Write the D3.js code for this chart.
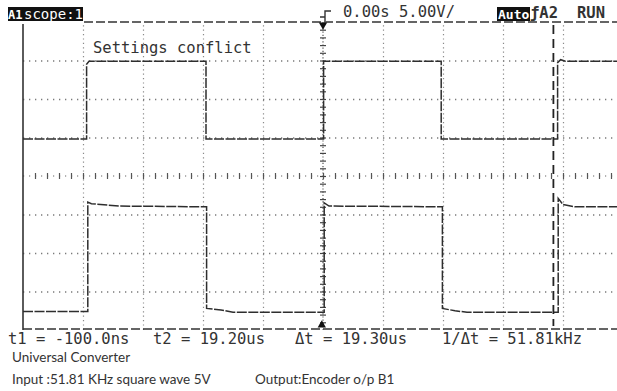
<!DOCTYPE html>
<html>
<head>
<meta charset="utf-8">
<script src="https://cdn.jsdelivr.net/npm/d3@7"></script>
<style>
  body { margin: 0; background: #fff; }
  svg { display: block; }
  .scope { font-family: "DejaVu Sans Mono", monospace; font-size: 15.5px; fill: #333; }
  .scope.inv { fill: #fff; }
  .caption { font-family: Lato, "Open Sans", sans-serif; font-size: 13.5px; fill: #333; }
  .grid .domain { display: none; }
</style>
</head>
<body>
<div id="chart"></div>
<script>
// screen: 10 time divisions of 5 us, 8 voltage divisions of 5 V
var timeDomain = [-25, 25];
var voltDomain = [-20, 20];
var timeGrid = [-20, -15, -10, -5, 5, 10, 15, 20];
var voltGrid = [-15, -10, -5, 5, 10, 15];

// channel A1 trace [us, V]
var ch1 = [[-25, 4.8], [-19.7, 4.8], [-19.7, 14.5], [-19.5, 14.9], [-9.75, 14.9], [-9.75, 4.8],
  [0.05, 4.8], [0.05, 14.9], [9.85, 14.9], [9.85, 4.8], [19.55, 4.8], [19.55, 14.7],
  [19.8, 15.1], [20.2, 14.9], [25, 14.9]];

// channel A2 trace [us, V]
var ch2 = [[-25, -17.6], [-19.6, -17.6], [-19.6, -3.4], [-19.3, -3.6], [-17, -3.9], [-9.7, -4.0],
  [-9.7, -17.2], [-8.5, -17.4], [-7.5, -17.7], [0.1, -17.7], [0.1, -3.5], [0.5, -3.9],
  [9.95, -4.0], [9.95, -17.2], [11, -17.5], [12, -17.7], [19.6, -17.7], [19.6, -2.9],
  [20, -3.7], [21, -4.0], [25, -4.0]];

var cursorT = [-0.1, 19.2];

var bottomLabels = ["t1 = -100.0ns", "t2 = 19.20us", "\u0394t = 19.30us", "1/\u0394t = 51.81kHz"];
var bottomLabelX = [8, 153, 295, 442];
var captionLines = ["Universal Converter", "Input :51.81 KHz square wave 5V", "Output:Encoder o/p B1"];

var W = 617, H = 391;
var svg = d3.select("#chart").append("svg").attr("width", W).attr("height", H);

var x = d3.scaleLinear().domain(timeDomain).range([23, 623]);
var y = d3.scaleLinear().domain(voltDomain).range([330, 22]);
var plotH = y(voltDomain[0]) - y(voltDomain[1]);
var plotW = x(timeDomain[1]) - x(timeDomain[0]);

// vertical dotted gridlines
svg.append("g")
  .attr("class", "grid")
  .attr("transform", "translate(0," + y(voltDomain[0]) + ")")
  .call(d3.axisBottom(x).tickValues(timeGrid).tickSize(-plotH).tickFormat(""))
  .selectAll("line")
  .attr("stroke", "#8a8a8a").attr("stroke-width", 1.2).attr("stroke-dasharray", "1.2,3.2");

// horizontal dotted gridlines
svg.append("g")
  .attr("class", "grid")
  .attr("transform", "translate(" + x(timeDomain[0]) + ",0)")
  .call(d3.axisLeft(y).tickValues(voltGrid).tickSize(-plotW).tickFormat(""))
  .selectAll("line")
  .attr("stroke", "#7a7a7a").attr("stroke-width", 1.3).attr("stroke-dasharray", "1.3,4.7");

// centre horizontal axis: dots + minor ticks every 1 us
svg.append("line")
  .attr("x1", x(timeDomain[0])).attr("x2", W)
  .attr("y1", y(0)).attr("y2", y(0))
  .attr("stroke", "#666").attr("stroke-width", 1.2).attr("stroke-dasharray", "1.2,4.8");
svg.append("g")
  .attr("class", "grid")
  .attr("transform", "translate(0," + (y(0) - 3) + ")")
  .call(d3.axisBottom(x).tickValues(d3.range(-24, 25, 1)).tickSize(6).tickFormat(""))
  .selectAll("line")
  .attr("stroke", "#555").attr("stroke-width", 1.2);

// centre vertical axis: line + minor ticks every 1 V
svg.append("line")
  .attr("x1", x(0)).attr("x2", x(0))
  .attr("y1", y(voltDomain[1])).attr("y2", y(voltDomain[0]))
  .attr("stroke", "#555").attr("stroke-width", 1.2).attr("stroke-dasharray", "1.2,2");
svg.append("g")
  .attr("class", "grid")
  .attr("transform", "translate(" + (x(0) - 3) + ",0)")
  .call(d3.axisRight(y).tickValues(d3.range(-19, 20, 1)).tickSize(6).tickFormat(""))
  .selectAll("line")
  .attr("stroke", "#444").attr("stroke-width", 1.2);

// screen frame: solid left edge, dashed top and bottom
svg.append("line")
  .attr("x1", x(timeDomain[0])).attr("x2", x(timeDomain[0]))
  .attr("y1", y(voltDomain[1]) + 2).attr("y2", y(voltDomain[0]))
  .attr("stroke", "#333").attr("stroke-width", 1.6);
svg.append("line")
  .attr("x1", 84).attr("x2", W)
  .attr("y1", y(voltDomain[1])).attr("y2", y(voltDomain[1]))
  .attr("stroke", "#333").attr("stroke-width", 1.6).attr("stroke-dasharray", "9,3");
svg.append("line")
  .attr("x1", x(timeDomain[0])).attr("x2", W)
  .attr("y1", y(voltDomain[0]) - 1).attr("y2", y(voltDomain[0]) - 1)
  .attr("stroke", "#333").attr("stroke-width", 1.6).attr("stroke-dasharray", "9,3");

// traces
var line = d3.line().x(d => x(d[0])).y(d => y(d[1]));
[ch1, ch2].forEach(function(d) {
  svg.append("path")
    .datum(d)
    .attr("d", line)
    .attr("fill", "none")
    .attr("stroke", "#2e2e2e")
    .attr("stroke-width", 1.5)
    .attr("stroke-dasharray", "10,1.5");
});

// t2 cursor (long dashes)
svg.append("line")
  .attr("x1", x(cursorT[1])).attr("x2", x(cursorT[1]))
  .attr("y1", y(voltDomain[1]) + 3).attr("y2", y(voltDomain[0]) - 4)
  .attr("stroke", "#222").attr("stroke-width", 1.8).attr("stroke-dasharray", "9,5");

// trigger / t1 markers
svg.append("path")
  .attr("d", d3.symbol().type(d3.symbolTriangle).size(30))
  .attr("transform", "translate(" + x(0) + "," + (y(voltDomain[1]) + 3) + ") rotate(180)")
  .attr("fill", "#111");
svg.append("path")
  .attr("d", d3.symbol().type(d3.symbolTriangle).size(30))
  .attr("transform", "translate(" + x(cursorT[0]) + "," + (y(voltDomain[0]) - 5) + ")")
  .attr("fill", "#111");
svg.append("path")
  .attr("d", "M331,11 H325 V21 M320,17 L325,17")
  .attr("fill", "none").attr("stroke", "#333").attr("stroke-width", 1.4);

// header
svg.append("rect").attr("x", 8).attr("y", 7).attr("width", 75).attr("height", 14).attr("fill", "#111");
svg.append("text").attr("class", "scope inv").attr("x", 8).attr("y", 19)
  .style("font-size", "12px").style("font-weight", "bold").text("A1");
svg.append("text").attr("class", "scope inv").attr("x", 24).attr("y", 19)
  .style("font-size", "14px").text("scope:1");
svg.append("text").attr("class", "scope").attr("x", 343).attr("y", 17).text("0.00s 5.00V/");
svg.append("rect").attr("x", 497).attr("y", 7).attr("width", 33).attr("height", 14).attr("fill", "#111");
svg.append("text").attr("class", "scope inv").attr("x", 498).attr("y", 19)
  .style("font-size", "13px").style("font-weight", "bold").text("Auto");
svg.append("text").attr("class", "scope").attr("x", 530).attr("y", 18)
  .style("font-weight", "bold").text("\u0192A2");
svg.append("text").attr("class", "scope").attr("x", 577).attr("y", 18)
  .style("font-weight", "bold").text("RUN");

svg.append("text").attr("class", "scope").attr("x", 93).attr("y", 53).text("Settings conflict");

// cursor readouts
svg.selectAll("text.readout")
  .data(bottomLabels)
  .enter().append("text")
  .attr("class", "scope readout")
  .attr("x", (d, i) => bottomLabelX[i])
  .attr("y", 344)
  .text(d => d);

// captions
svg.append("text").attr("class", "caption").attr("x", 12).attr("y", 362).text(captionLines[0]);
svg.append("text").attr("class", "caption").attr("x", 12).attr("y", 384).text(captionLines[1]);
svg.append("text").attr("class", "caption").attr("x", 255).attr("y", 384).text(captionLines[2]);
</script>
</body>
</html>
